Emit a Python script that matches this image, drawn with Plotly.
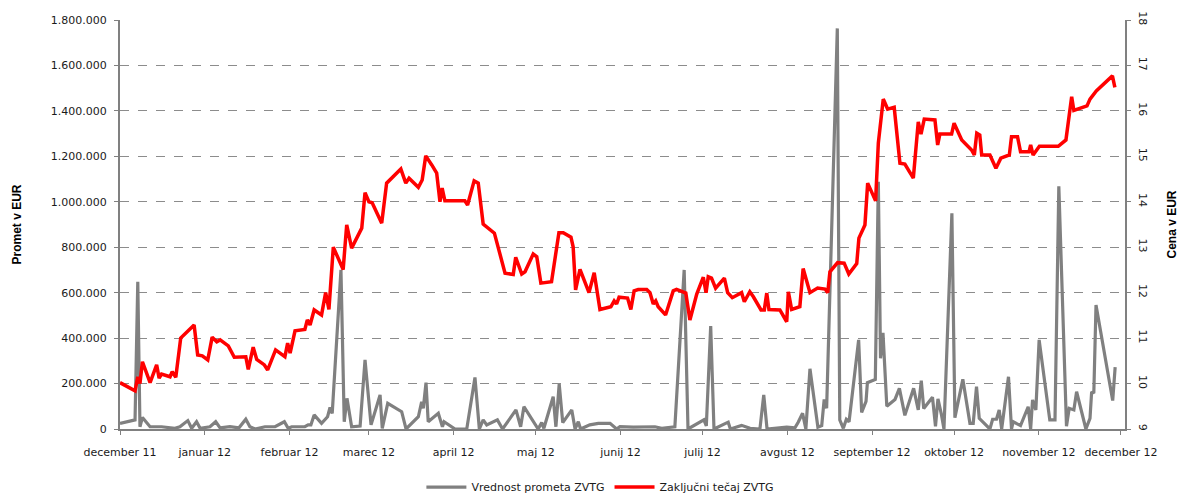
import pandas as pd
import plotly.graph_objects as go

START = pd.Timestamp("2011-12-01")

# Trading value (EUR), day offset since 1 Dec 2011
value_days = [
    0, 5.5, 6.5, 7.3, 8.2, 11.0, 15.2, 20.1, 21.9, 24.8,
    26.2, 28.0, 29.3, 32.9, 35.0, 36.6, 40.2, 43.5, 46.0, 47.5,
    49.4, 53.0, 56.7, 60.1, 61.5, 62.8, 67.6, 68.8, 69.8, 71.0,
    73.7, 75.9, 76.8, 77.6, 80.8, 82.0, 83.0, 83.7, 84.7, 87.8,
    89.6, 91.8, 95.1, 95.9, 97.9, 103.0, 104.6, 109.1, 110.3, 110.9,
    111.9, 112.7, 116.4, 117.9, 118.5, 122.5, 126.8, 129.8, 131.4, 132.8,
    134.1, 138.0, 139.9, 144.8, 146.5, 147.7, 152.9, 154.2, 155.0, 158.4,
    159.4, 160.6, 161.9, 165.2, 166.4, 167.6, 168.4, 171.8, 174.9, 179.2,
    181.6, 182.8, 187.7, 195.6, 198.1, 202.9, 206.3, 207.7, 213.5, 214.4,
    216.0, 217.2, 222.4, 223.2, 227.3, 230.4, 234.0, 235.4, 236.6, 243.8,
    246.8, 248.0, 249.6, 250.8, 252.3, 255.2, 256.6, 257.5, 258.4, 262.3,
    263.2, 264.5, 265.6, 266.6, 270.1, 271.2, 272.8, 273.3, 276.2, 277.3,
    278.1, 279.0, 280.4, 283.4, 285.0, 287.0, 290.2, 291.9, 293.0, 293.9,
    297.1, 298.2, 299.1, 300.4, 301.3, 304.2, 305.3, 308.2, 310.8, 312.0,
    313.2, 314.2, 318.1, 319.1, 320.5, 321.5, 322.4, 324.9, 326.0, 326.6,
    329.3, 332.1, 333.0, 333.7, 334.9, 336.1, 340.0, 341.9, 343.3, 346.1,
    347.1, 348.8, 349.8, 353.2, 354.7, 355.3, 356.1, 356.9, 363.0, 363.9,
]
value_eur = [
    25000, 40000, 648000, 10000, 51000, 10000, 10000, 3000, 10000, 37000,
    3000, 32000, 3000, 10000, 32000, 5000, 10000, 5000, 43000, 10000,
    0, 10000, 10000, 32000, 3000, 10000, 10000, 18000, 18000, 62000,
    25000, 54000, 95000, 69000, 700000, 32000, 135000, 76000, 10000, 13000,
    304000, 18000, 150000, 3000, 113000, 76000, 0, 54000, 120000, 91000,
    204000, 32000, 69000, 10000, 32000, 0, 0, 227000, 0, 40000,
    18000, 40000, 0, 84000, 10000, 98000, 0, 28000, 3000, 142000,
    10000, 198000, 28000, 84000, 0, 32000, 0, 18000, 25000, 25000,
    0, 10000, 8000, 10000, 3000, 10000, 700000, 0, 40000, 14000,
    453000, 0, 30000, 0, 16000, 3000, 0, 150000, 0, 8000,
    5000, 30000, 69000, 0, 265000, 8000, 15000, 130000, 91000, 1763000,
    40000, 3000, 43000, 32000, 392000, 73000, 122000, 204000, 218000, 1088000,
    311000, 423000, 100000, 130000, 179000, 60000, 179000, 84000, 213000, 90000,
    140000, 12000, 133000, 62000, 0, 949000, 50000, 219000, 25000, 25000,
    186000, 47000, 0, 43000, 43000, 84000, 0, 230000, 0, 32000,
    15000, 98000, 0, 128000, 84000, 392000, 40000, 40000, 1068000, 12000,
    91000, 84000, 164000, 0, 47000, 164000, 157000, 546000, 125000, 272000,
]

# Closing price (EUR), day offset since 1 Dec 2011
price_days = [
    0, 5.5, 6.5, 7.3, 8.2, 11.0, 13.4, 14.3, 15.2, 18.3,
    19.1, 20.4, 22.2, 24.4, 27.1, 28.4, 30.1, 32.1, 33.7, 35.4,
    36.6, 39.6, 41.8, 46.0, 46.9, 48.7, 50.0, 52.8, 54.0, 56.9,
    60.3, 61.3, 62.2, 64.0, 67.6, 68.5, 69.5, 71.0, 73.7, 75.2,
    76.4, 78.0, 81.6, 82.9, 84.7, 88.4, 89.6, 91.0, 92.2, 95.7,
    97.5, 102.7, 104.5, 105.7, 109.1, 110.5, 111.8, 114.0, 115.8, 117.0,
    117.8, 118.8, 126.1, 127.1, 129.5, 131.0, 132.8, 136.9, 140.8, 143.8,
    144.7, 146.9, 148.1, 151.1, 152.4, 153.9, 157.8, 160.5, 162.1, 164.9,
    165.7, 166.6, 168.2, 171.5, 173.4, 175.5, 179.5, 180.7, 181.6, 182.5,
    185.6, 186.8, 188.0, 189.5, 192.6, 193.8, 195.0, 195.9, 196.8, 199.5,
    202.3, 203.5, 206.9, 208.4, 210.9, 213.3, 214.3, 215.1, 216.3, 217.8,
    221.0, 222.2, 223.9, 227.3, 228.3, 230.3, 231.6, 234.4, 235.6, 236.5,
    237.3, 241.3, 242.9, 243.8, 244.4, 245.6, 248.6, 249.8, 252.3, 255.1,
    257.8, 258.8, 259.6, 262.4, 264.8, 266.5, 269.4, 270.2, 272.4, 273.4,
    276.3, 277.3, 279.1, 280.7, 283.1, 285.2, 287.0, 290.1, 291.9, 292.9,
    294.1, 298.0, 299.0, 299.8, 304.1, 305.0, 307.8, 311.4, 312.4, 313.3,
    314.4, 315.1, 318.1, 320.3, 322.1, 325.2, 326.0, 328.2, 329.3, 332.4,
    333.0, 333.9, 336.2, 343.1, 345.9, 348.0, 348.8, 353.6, 354.7, 357.0,
    362.9, 363.8,
]
price_eur = [
    10.02, 9.84, 10.15, 10.0, 10.48, 10.02, 10.41, 10.12, 10.21, 10.15,
    10.26, 10.14, 11.0, 11.14, 11.29, 10.63, 10.61, 10.52, 11.02, 10.92,
    10.96, 10.83, 10.58, 10.59, 10.31, 10.80, 10.53, 10.41, 10.30, 10.74,
    10.59, 10.89, 10.67, 11.16, 11.19, 11.40, 11.29, 11.62, 11.51, 12.0,
    11.63, 13.0, 12.51, 13.49, 12.98, 13.42, 14.20, 14.0, 13.98, 13.53,
    14.41, 14.72, 14.41, 14.52, 14.32, 14.48, 15.01, 14.81, 14.63, 14.0,
    14.30, 14.02, 14.02, 13.93, 14.46, 14.41, 13.51, 13.31, 12.43, 12.40,
    12.78, 12.41, 12.46, 12.85, 12.79, 12.21, 12.24, 13.32, 13.32, 13.22,
    13.01, 12.06, 12.51, 12.0, 12.44, 11.63, 11.69, 11.82, 11.75, 11.90,
    11.88, 11.63, 12.04, 12.07, 12.07, 12.0, 11.75, 11.82, 11.69, 11.51,
    12.04, 12.07, 11.99, 11.40, 11.97, 12.34, 12.0, 12.35, 12.32, 12.10,
    12.32, 12.0, 11.89, 12.0, 11.80, 12.02, 11.91, 11.62, 11.62, 11.99,
    11.63, 11.62, 11.47, 11.36, 12.02, 11.63, 11.69, 12.53, 12.0, 12.10,
    12.08, 12.0, 12.46, 12.66, 12.65, 12.41, 12.64, 13.2, 13.49, 14.41,
    14.02, 15.29, 16.26, 16.04, 16.08, 14.85, 14.83, 14.52, 15.76, 15.49,
    15.82, 15.80, 15.25, 15.49, 15.49, 15.73, 15.36, 15.14, 15.03, 15.51,
    15.47, 15.03, 15.03, 14.74, 14.96, 15.03, 15.43, 15.43, 15.10, 15.10,
    15.25, 15.03, 15.22, 15.22, 15.36, 16.31, 16.01, 16.11, 16.26, 16.44,
    16.77, 16.52,
]

month_ticks = ["2011-12-01", "2012-01-01", "2012-02-01", "2012-03-01", "2012-04-01",
               "2012-05-01", "2012-06-01", "2012-07-01", "2012-08-01", "2012-09-01",
               "2012-10-01", "2012-11-01", "2012-12-01"]
month_labels = ["december 11", "januar 12", "februar 12", "marec 12", "april 12",
                "maj 12", "junij 12", "julij 12", "avgust 12", "september 12",
                "oktober 12", "november 12", "december 12"]
left_ticks = [0, 200000, 400000, 600000, 800000, 1000000, 1200000, 1400000, 1600000, 1800000]
left_labels = ["0", "200.000", "400.000", "600.000", "800.000", "1.000.000",
               "1.200.000", "1.400.000", "1.600.000", "1.800.000"]
right_ticks = [9, 10, 11, 12, 13, 14, 15, 16, 17, 18]

value_dates = START + pd.to_timedelta(value_days, unit="D")
price_dates = START + pd.to_timedelta(price_days, unit="D")

AX = "#808080"
TXT = "#1a1a1a"
FONT = "DejaVu Sans"

fig = go.Figure()
fig.add_trace(go.Scatter(x=value_dates, y=value_eur, mode="lines",
                         name="Vrednost prometa ZVTG",
                         line=dict(color="#808080", width=3.2), yaxis="y"))
fig.add_trace(go.Scatter(x=price_dates, y=price_eur, mode="lines",
                         name="Zaključni tečaj ZVTG",
                         line=dict(color="#ff0000", width=3.5), yaxis="y2"))

fig.update_layout(
    width=1179, height=494, autosize=False,
    margin=dict(l=120, r=54, t=20, b=65, autoexpand=False),
    paper_bgcolor="white", plot_bgcolor="white",
    font=dict(family=FONT, size=11, color=TXT),
    showlegend=True,
    legend=dict(orientation="h", x=0.478, xanchor="center", y=-0.142, yanchor="middle",
                font=dict(family=FONT, size=11, color=TXT), itemwidth=40,
                bgcolor="rgba(0,0,0,0)"),
    xaxis=dict(type="date", automargin=False,
               range=[START, START + pd.Timedelta(days=367.5)],
               tickvals=month_ticks, ticktext=month_labels,
               ticks="outside", ticklen=4, tickcolor=AX, tickwidth=1,
               showline=True, linecolor=AX, linewidth=2,
               showgrid=False, zeroline=False,
               tickfont=dict(family=FONT, size=11, color=TXT),
               ticklabelstandoff=8),
    yaxis=dict(range=[0, 1800000], tickvals=left_ticks, ticktext=left_labels,
               automargin=False,
               ticks="outside", ticklen=4, tickcolor=AX,
               showline=True, linecolor=AX, linewidth=2,
               showgrid=True, gridcolor="#8c8c8c", gridwidth=1, griddash="dash",
               zeroline=False,
               tickfont=dict(family=FONT, size=11, color=TXT),
               ticklabelstandoff=5,
               title=dict(text="<b>Promet v EUR</b>",
                          font=dict(family="Liberation Sans", size=12, color="black"),
                          standoff=27)),
    yaxis2=dict(range=[9, 18], tickvals=right_ticks, automargin=False,
                overlaying="y", side="right", anchor="x",
                ticks="outside", ticklen=4, tickcolor=AX,
                showline=True, linecolor=AX, linewidth=2,
                showgrid=False, zeroline=False, tickangle=90,
                tickfont=dict(family=FONT, size=11, color=TXT),
                ticklabelstandoff=4,
                title=dict(text="<b>Cena v EUR</b>",
                           font=dict(family="Liberation Sans", size=12, color="black"),
                           standoff=20)),
)

fig.write_html("out.html",
               config={"displayModeBar": False},
               post_script="document.body.style.margin='0';document.body.style.overflow='hidden';")
